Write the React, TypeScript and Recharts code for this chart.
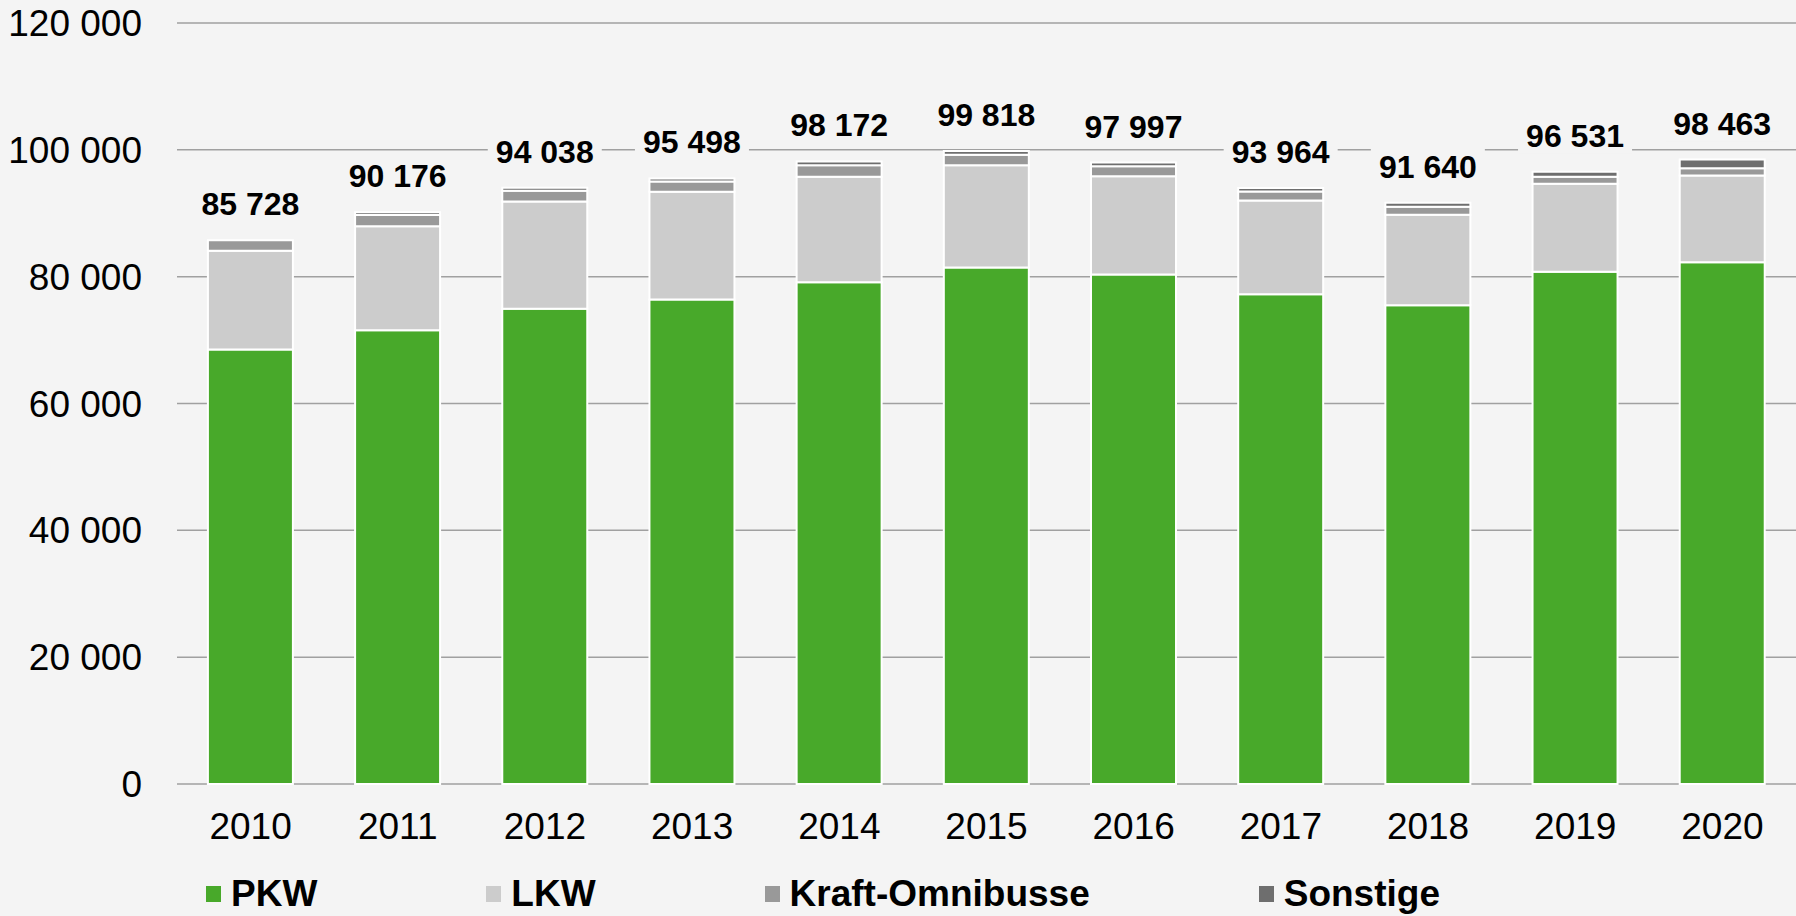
import React from 'react';
import { BarChart, Bar, XAxis, YAxis, CartesianGrid, Legend, LabelList } from 'recharts';

const YEARS = ['2010', '2011', '2012', '2013', '2014', '2015', '2016', '2017', '2018', '2019', '2020'];
const PKW = [68520, 71560, 74940, 76400, 79130, 81450, 80340, 77240, 75500, 80770, 82280];
const LKW = [15560, 16400, 16920, 16980, 16620, 16130, 15500, 14780, 14260, 13880, 13670];
const KRAFT = [1648, 1766, 1678, 1618, 1822, 1638, 1557, 1394, 1280, 1096, 1163];
const SONSTIGE = [0, 450, 500, 500, 600, 600, 600, 550, 600, 785, 1350];
const TOTALS = [85728, 90176, 94038, 95498, 98172, 99818, 97997, 93964, 91640, 96531, 98463];
const Y_TICKS = [0, 20000, 40000, 60000, 80000, 100000, 120000];

const BG = '#f4f4f4';

const SERIES = [
  { key: 'pkw', name: 'PKW', color: '#48a92a', values: PKW },
  { key: 'lkw', name: 'LKW', color: '#cccccc', values: LKW },
  { key: 'kraft', name: 'Kraft-Omnibusse', color: '#999999', values: KRAFT },
  { key: 'sonstige', name: 'Sonstige', color: '#6e6e6e', values: SONSTIGE },
];

const data = YEARS.map((year, i) => ({
  year,
  pkw: PKW[i],
  lkw: LKW[i],
  kraft: KRAFT[i],
  sonstige: SONSTIGE[i],
  total: TOTALS[i],
}));

// 85728 -> "85 728"
const fmt = (v: number) => String(v).replace(/\B(?=(\d{3})+(?!\d))/g, ' ');

// index of the highest non-empty segment in a column
const topSeries = (i: number) => {
  let top = 0;
  SERIES.forEach((s, si) => {
    if (s.values[i] > 0) top = si;
  });
  return top;
};

// zero-height segments are dropped from the label list, so find the column by its total
const makeTotalLabel = (seriesIdx: number) => (props: any) => {
  const { x, y, width, value } = props;
  const col = TOTALS.indexOf(Number(value));
  if (col < 0 || topSeries(col) !== seriesIdx) return null;
  const cx = Number(x) + Number(width) / 2;
  const base = Number(y) - 25;
  return (
    <g>
      <rect x={cx - 57} y={base - 30} width={114} height={37} fill={BG} />
      <text
        x={cx}
        y={base}
        textAnchor="middle"
        fill="#000"
        style={{ fontFamily: '"Liberation Sans Narrow", "Arial Narrow", "Liberation Sans", Arial, sans-serif', fontWeight: 700, fontSize: 32 }}
      >
        {fmt(value)}
      </text>
    </g>
  );
};

const CustomLegend = () => (
  <div style={{ display: 'flex', alignItems: 'center', gap: 169, paddingLeft: 206, height: 44 }}>
    {SERIES.map(s => (
      <div key={s.key} style={{ display: 'flex', alignItems: 'center' }}>
        <span style={{ display: 'inline-block', width: 15, height: 16, background: s.color, marginRight: 10 }} />
        <span style={{ fontFamily: '"Liberation Sans", Arial, sans-serif', fontWeight: 700, fontSize: 37, lineHeight: '44px', color: '#000' }}>
          {s.name}
        </span>
      </div>
    ))}
  </div>
);

const tickStyle = { fontFamily: '"Liberation Sans", Arial, sans-serif', fontSize: 37, fill: '#000' };

export default function App() {
  return (
    <div style={{ position: 'absolute', left: 0, top: 0, width: 1796, height: 916, background: BG }}>
      <BarChart
        width={1796}
        height={916}
        data={data}
        margin={{ top: 23, right: 0, bottom: 0, left: 0 }}
        barCategoryGap="21%"
      >
        <CartesianGrid vertical={false} stroke="#a0a0a0" strokeWidth={1.5} />
        <XAxis
          dataKey="year"
          height={132}
          axisLine={false}
          tickLine={false}
          tickSize={0}
          tickMargin={29}
          tick={tickStyle}
          interval={0}
        />
        <YAxis
          width={177}
          domain={[0, 120000]}
          ticks={Y_TICKS}
          axisLine={false}
          tickLine={false}
          tickSize={0}
          tickMargin={35}
          tick={tickStyle}
          tickFormatter={fmt}
        />
        <Legend
          layout="vertical"
          align="center"
          verticalAlign="middle"
          content={<CustomLegend />}
          wrapperStyle={{ left: 0, top: 872, width: 1796 }}
        />
        {SERIES.map((s, si) => (
          <Bar
            key={s.key}
            dataKey={s.key}
            name={s.name}
            stackId="a"
            fill={s.color}
            stroke="#ffffff"
            strokeWidth={2}
            isAnimationActive={false}
          >
            <LabelList dataKey="total" content={makeTotalLabel(si)} />
          </Bar>
        ))}
      </BarChart>
    </div>
  );
}
